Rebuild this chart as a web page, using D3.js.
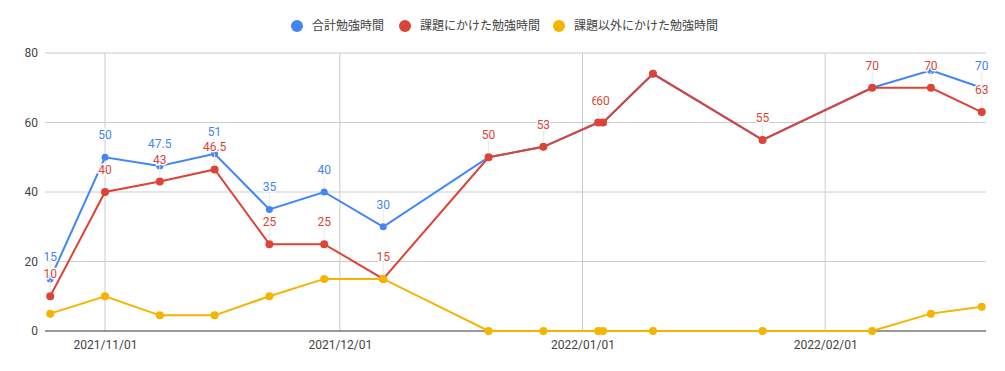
<!DOCTYPE html>
<html>
<head>
<meta charset="utf-8">
<script src="https://cdn.jsdelivr.net/npm/d3@7"></script>
<style>
  body { margin: 0; background: #fff; }
  #viz text { font-family: Roboto, "Noto Sans CJK JP", sans-serif; }
</style>
</head>
<body>
<div id="viz"></div>
<script>

var dates = ['2021/10/25 00:00', '2021/11/01 00:00', '2021/11/08 00:00', '2021/11/15 00:00',
             '2021/11/22 00:00', '2021/11/29 00:00', '2021/12/06 13:00', '2021/12/20 00:00',
             '2021/12/27 00:00', '2022/01/03 00:00', '2022/01/03 15:00', '2022/01/10 00:00',
             '2022/01/24 00:00', '2022/02/07 00:00', '2022/02/14 12:00', '2022/02/21 00:00'];

var totalHours  = [15, 50, 47.5, 51, 35, 40, 30, 50, 53, 60, 60, 74, 55, 70, 75, 70];
var taskHours   = [10, 40, 43, 46.5, 25, 25, 15, 50, 53, 60, 60, 74, 55, 70, 70, 63];
var otherHours  = [5, 10, 4.5, 4.5, 10, 15, 15, 0, 0, 0, 0, 0, 0, 0, 5, 7];

// which points get an annotation (google hides the ones that collide)
var totalLabels = [1, 1, 1, 1, 1, 1, 1, 0, 0, 0, 0, 0, 0, 0, 0, 1];
var taskLabels  = [1, 1, 1, 1, 1, 1, 1, 1, 1, 1, 1, 0, 1, 1, 1, 1];
var otherLabels = [0, 0, 0, 0, 0, 0, 0, 0, 0, 0, 0, 0, 0, 0, 0, 0];

var seriesNames = ['合計勉強時間', '課題にかけた勉強時間', '課題以外にかけた勉強時間'];
var seriesColors = ['#4285f4', '#db4437', '#f4b400'];

var xDomain = ['2021/10/24 08:00', '2022/02/21 13:00'];
var xTicks = ['2021/11/01 00:00', '2021/12/01 00:00', '2022/01/01 00:00', '2022/02/01 00:00'];
var yTicks = [0, 20, 40, 60, 80];

var parse = d3.timeParse('%Y/%m/%d %H:%M');

function drawChart() {
  var width = 1005,
      height = 371,
      margin = {top: 53, right: 19, bottom: 40, left: 45},
      plotW = width - margin.left - margin.right,
      plotH = height - margin.top - margin.bottom;

  var svg = d3.select('#viz').append('svg')
    .attr('width', width)
    .attr('height', height);

  var xScale = d3.scaleTime()
    .domain(xDomain.map(parse))
    .range([margin.left, margin.left + plotW]);

  var yScale = d3.scaleLinear()
    .domain([0, 80])
    .range([margin.top + plotH, margin.top]);

  // gridlines
  svg.append('g').selectAll('line').data(yTicks.slice(1))
    .enter().append('line')
      .attr('x1', margin.left).attr('x2', margin.left + plotW)
      .attr('y1', function(d) { return yScale(d); })
      .attr('y2', function(d) { return yScale(d); })
      .attr('stroke', '#cccccc');

  svg.append('g').selectAll('line').data(xTicks.map(parse))
    .enter().append('line')
      .attr('x1', function(d) { return xScale(d); })
      .attr('x2', function(d) { return xScale(d); })
      .attr('y1', yScale(80)).attr('y2', yScale(0))
      .attr('stroke', '#cccccc');

  // axes
  var yAxis = svg.append('g')
    .attr('transform', 'translate(' + margin.left + ',0)')
    .call(d3.axisLeft(yScale).tickValues(yTicks).tickSize(0).tickPadding(7));
  yAxis.select('.domain').remove();

  var xAxis = svg.append('g')
    .attr('transform', 'translate(0,' + yScale(0) + ')')
    .call(d3.axisBottom(xScale).tickValues(xTicks.map(parse))
      .tickFormat(d3.timeFormat('%Y/%m/%d')).tickSize(0).tickPadding(9));
  xAxis.select('.domain').remove();

  svg.selectAll('.tick text')
    .attr('fill', '#444')
    .style('font-size', '12px');

  svg.append('line')
    .attr('x1', margin.left).attr('x2', margin.left + plotW)
    .attr('y1', yScale(0)).attr('y2', yScale(0))
    .attr('stroke', '#333');

  var allSeries = [totalHours, taskHours, otherHours];
  var allLabels = [totalLabels, taskLabels, otherLabels];
  var radius = [3.5, 4, 4];

  var line = d3.line()
    .x(function(d) { return xScale(parse(d.date)); })
    .y(function(d) { return yScale(d.value); });

  var layers = allSeries.map(function(values, s) {
    return values.map(function(v, i) {
      return {date: dates[i], value: v, label: allLabels[s][i], s: s};
    });
  });

  layers.forEach(function(pts, s) {
    var g = svg.append('g');
    g.append('path')
      .datum(pts)
      .attr('fill', 'none')
      .attr('stroke', seriesColors[s])
      .attr('stroke-width', 2)
      .attr('d', line);
    g.selectAll('circle').data(pts)
      .enter().append('circle')
        .attr('cx', function(d) { return xScale(parse(d.date)); })
        .attr('cy', function(d) { return yScale(d.value); })
        .attr('r', radius[s])
        .attr('fill', seriesColors[s]);
  });

  // annotations with their little stems
  var labelled = [];
  layers.forEach(function(pts) {
    pts.forEach(function(d) { if (d.label) labelled.push(d); });
  });

  var ann = svg.append('g');
  ann.selectAll('line').data(labelled)
    .enter().append('line')
      .attr('x1', function(d) { return xScale(parse(d.date)); })
      .attr('x2', function(d) { return xScale(parse(d.date)); })
      .attr('y1', function(d) { return yScale(d.value) - 4; })
      .attr('y2', function(d) { return yScale(d.value) - 16; })
      .attr('stroke', '#e8e8e8');

  ann.selectAll('text').data(labelled)
    .enter().append('text')
      .attr('x', function(d) { return xScale(parse(d.date)); })
      .attr('y', function(d) { return yScale(d.value) - 18; })
      .attr('text-anchor', 'middle')
      .attr('fill', function(d) { return seriesColors[d.s]; })
      .attr('stroke', '#fff')
      .attr('stroke-width', 3)
      .attr('paint-order', 'stroke')
      .style('font-size', '12px')
      .text(function(d) { return d.value; });

  // legend
  var legendX = [297, 405, 559];
  var legend = svg.append('g').selectAll('g').data(seriesNames)
    .enter().append('g')
      .attr('transform', function(d, i) { return 'translate(' + legendX[i] + ',26)'; });
  legend.append('circle')
    .attr('r', 6)
    .attr('fill', function(d, i) { return seriesColors[i]; });
  legend.append('text')
    .attr('x', 15)
    .attr('dy', '0.35em')
    .attr('fill', '#444')
    .style('font-size', '12px')
    .text(function(d) { return d; });
}

drawChart();
</script>
</body>
</html>
